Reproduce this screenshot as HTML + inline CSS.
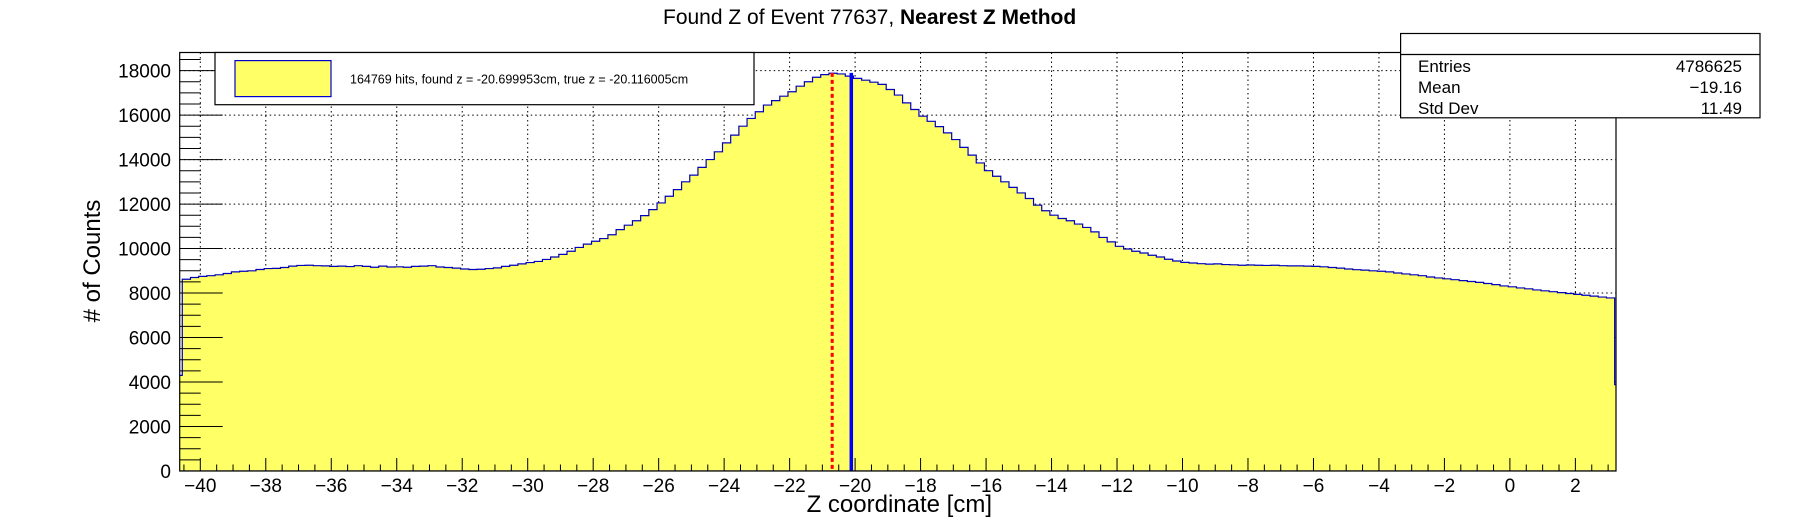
<!DOCTYPE html>
<html><head><meta charset="utf-8"><style>
html,body{margin:0;padding:0;background:#fff;}
svg{display:block;font-family:"Liberation Sans",Arial,sans-serif;}
</style></head><body>
<svg id="chart" width="1796" height="522" viewBox="0 0 1796 522" xmlns="http://www.w3.org/2000/svg">
<rect x="0" y="0" width="1796" height="522" fill="#fff"/>
<text x="663" y="24" font-size="21">Found Z of Event 77637,   <tspan font-weight="bold">Nearest Z Method</tspan></text>
<defs><clipPath id="fc"><rect x="179.7" y="52.5" width="1436.3" height="418.5"/></clipPath></defs>
<g id="grid"></g>
<g id="hist" clip-path="url(#fc)"></g>
<g id="marks"></g>
<rect x="179.7" y="52.5" width="1436.3" height="418.5" fill="none" stroke="#000" stroke-width="1.2"/>
<g id="ticks"></g>
<text transform="translate(100,261) rotate(-90)" text-anchor="middle" font-size="24"># of Counts</text>
<text x="992" y="512" text-anchor="end" font-size="24">Z coordinate [cm]</text>
<g>
<rect x="215" y="52.5" width="539" height="52.2" fill="#fff" stroke="#000" stroke-width="1.2"/>
<rect x="235" y="60.6" width="96" height="36" fill="#ffff66" stroke="#0000cc" stroke-width="1.2"/>
<text x="350" y="83.5" font-size="12.5">164769 hits, found z = -20.699953cm, true z = -20.116005cm</text>
</g>
<g>
<rect x="1400.6" y="33.5" width="359.4" height="84.3" fill="#fff" stroke="#000" stroke-width="1.2"/>
<line x1="1400.6" y1="54.5" x2="1760" y2="54.5" stroke="#000" stroke-width="1.2"/>
<g font-size="17">
<text x="1418" y="72">Entries</text>
<text x="1742" y="72" text-anchor="end">4786625</text>
<text x="1418" y="93">Mean</text>
<text x="1742" y="93" text-anchor="end">−19.16</text>
<text x="1418" y="114">Std Dev</text>
<text x="1742" y="114" text-anchor="end">11.49</text>
</g></g>
</svg>
<script>
const binStart = -40.8;
const binWidth = 0.25;
const counts = [4300,
8620,8700,8750,8780,8820,8880,8950,8980,9000,9060,
9100,9110,9150,9210,9240,9250,9230,9220,9200,9210,
9190,9230,9200,9160,9210,9170,9180,9160,9200,9210,
9230,9170,9150,9120,9080,9060,9070,9100,9130,9200,
9250,9310,9370,9420,9510,9620,9740,9880,10050,10200,
10330,10450,10620,10850,11050,11250,11480,11750,12050,12350,
12650,13000,13300,13650,14000,14350,14750,15100,15500,15850,
16150,16450,16650,16850,17050,17300,17500,17700,17820,17880,
17850,17750,17650,17570,17480,17380,17150,16900,16550,16250,
15950,15720,15480,15200,14900,14550,14200,13850,13500,13250,
13000,12750,12500,12250,11950,11700,11500,11350,11250,11100,
10950,10750,10500,10300,10100,9980,9880,9800,9700,9620,
9520,9440,9380,9350,9320,9300,9310,9280,9270,9250,
9260,9250,9240,9250,9230,9220,9220,9210,9200,9180,
9150,9120,9080,9050,9030,9000,8980,8950,8900,8860,
8820,8780,8720,8680,8640,8600,8560,8520,8480,8430,
8380,8320,8280,8230,8190,8140,8100,8060,8020,7980,
7940,7900,7860,7820,7780,3880];
const xTicks = [-40,-38,-36,-34,-32,-30,-28,-26,-24,-22,-20,-18,-16,-14,-12,-10,-8,-6,-4,-2,0,2];
const yTicks = [0,2000,4000,6000,8000,10000,12000,14000,16000,18000];
const foundZ = -20.699953;
const trueZ = -20.116005;
const markerTop = 17900;

const NS="http://www.w3.org/2000/svg";
const X0=179.7,X1=1616,Y0=52.5,Y1=471;
const xAx=v=>200.3+(v+40)*32.74;
const yAx=c=>471-c*400.4/18000;
const xMin=(X0-200.3)/32.74-40, xMax=(X1-200.3)/32.74-40;
function mk(tag,attrs,parent){const e=document.createElementNS(NS,tag);for(const k in attrs)e.setAttribute(k,attrs[k]);parent.appendChild(e);return e;}
const grid=document.getElementById('grid'),hist=document.getElementById('hist'),ticks=document.getElementById('ticks'),marks=document.getElementById('marks');
xTicks.forEach(v=>{const l=mk('line',{x1:xAx(v),x2:xAx(v),y1:Y0,y2:Y1,stroke:'#000','stroke-width':1,'stroke-dasharray':'1.5,3'},grid);

});
yTicks.forEach(v=>{const l=mk('line',{x1:X0,x2:X1,y1:yAx(v),y2:yAx(v),stroke:'#000','stroke-width':1,'stroke-dasharray':'1.5,3'},grid);

});
let d='M'+xAx(binStart)+','+yAx(0);
counts.forEach((c,k)=>{const a=xAx(binStart+k*binWidth),b=xAx(binStart+(k+1)*binWidth);d+=' L'+a+','+yAx(c)+' L'+b+','+yAx(c);});
d+=' L'+xAx(binStart+counts.length*binWidth)+','+yAx(0)+' Z';
const h=mk('path',{d:d,fill:'#ffff66',stroke:'#0000bb','stroke-width':1.2},hist);


const rl=mk('line',{x1:xAx(foundZ),x2:xAx(foundZ),y1:yAx(markerTop),y2:Y1,stroke:'#ff0000','stroke-width':3,'stroke-dasharray':'4,3'},marks);


const bl=mk('line',{x1:xAx(trueZ),x2:xAx(trueZ),y1:yAx(markerTop),y2:Y1,stroke:'#0000ff','stroke-width':3.5},marks);


for(let v=Math.ceil(xMin*2)/2;v<=xMax;v+=0.5){const major=Math.abs(v/2-Math.round(v/2))<1e-6;
const t=mk('line',{x1:xAx(v),x2:xAx(v),y1:Y1,y2:Y1-(major?13:6.5),stroke:'#000','stroke-width':1},ticks);

}
xTicks.forEach(v=>{const t=mk('text',{x:xAx(v),y:492,'text-anchor':'middle','font-size':19},ticks);t.textContent=(v<0?'−'+(-v):String(v));

});
for(let v=0;v<=18800;v+=500){const major=v%2000===0;
const t=mk('line',{x1:X0,x2:X0+(major?43:21),y1:yAx(v),y2:yAx(v),stroke:'#000','stroke-width':1},ticks);

}
yTicks.forEach(v=>{const t=mk('text',{x:171,y:yAx(v)+7,'text-anchor':'end','font-size':19},ticks);t.textContent=String(v);

});
</script>
</body></html>
